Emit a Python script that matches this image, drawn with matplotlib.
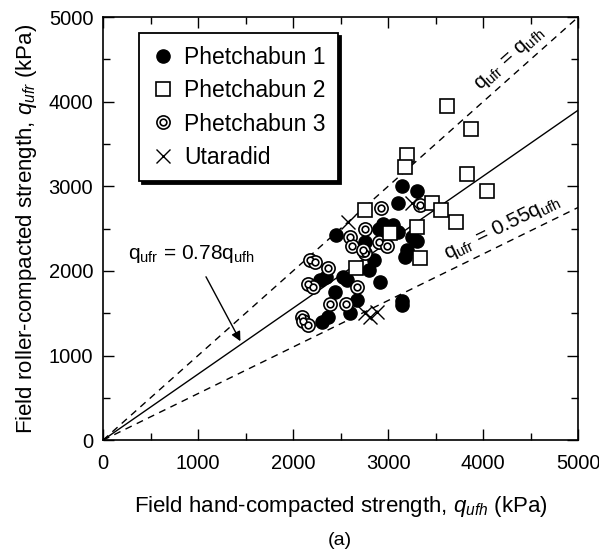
import matplotlib
matplotlib.use("Agg")
import matplotlib.pyplot as plt
from matplotlib.lines import Line2D
from matplotlib.legend_handler import HandlerTuple
from matplotlib.ticker import MultipleLocator
import numpy as np

plt.rcParams['font.family'] = ['Liberation Sans', 'DejaVu Sans']
plt.rcParams['mathtext.fontset'] = 'custom'
plt.rcParams['mathtext.it'] = 'Liberation Sans:italic'
plt.rcParams['mathtext.rm'] = 'Liberation Sans'

# Phetchabun 1 (filled circles)
p1_x = [3150, 3300, 3100, 2450, 2950, 3050, 3100, 2900, 2760, 3200, 3300, 3250, 3180, 2850,
        2800, 2280, 2350, 2530, 2440, 2570, 2920, 2670, 2600, 2300, 2370, 3150, 3150, 3000]
p1_y = [3000, 2950, 2800, 2420, 2560, 2540, 2460, 2500, 2340, 2250, 2350, 2400, 2170, 2130,
        2010, 1890, 1930, 1930, 1750, 1890, 1870, 1660, 1500, 1400, 1450, 1600, 1650, 2450]
# Phetchabun 2 (open squares)
p2_x = [3620, 3870, 3200, 3180, 3830, 4040, 3460, 3560, 3720, 3300, 3340, 3020, 2760, 2660]
p2_y = [3950, 3680, 3370, 3230, 3150, 2950, 2800, 2720, 2580, 2520, 2150, 2450, 2720, 2040]
# Phetchabun 3 (bullseye)
p3_x = [2930, 2600, 2760, 2620, 2760, 2900, 2990, 2180, 2230, 2370, 2160, 2210, 2670, 2390,
        2560, 2090, 2110, 2160, 2740, 3340]
p3_y = [2740, 2400, 2500, 2300, 2210, 2340, 2290, 2130, 2110, 2040, 1850, 1810, 1810, 1610,
        1610, 1450, 1410, 1360, 2250, 2780]
# Utaradid (crosses)
ut_x = [3250, 2580, 2810, 2880, 2760]
ut_y = [2800, 2580, 1460, 1520, 1500]

ratios = [1.0, 0.78, 0.55]
series_labels = ['Phetchabun 1', 'Phetchabun 2', 'Phetchabun 3', 'Utaradid']

fig = plt.figure(figsize=(5.99, 5.55), dpi=100)
ax = fig.add_axes([0.172, 0.207, 0.793, 0.762])

xs = np.array([0, 5000])
ax.plot(xs, ratios[0] * xs, color='black', lw=1.0, ls=(0, (5, 4)), zorder=1)
ax.plot(xs, ratios[1] * xs, color='black', lw=1.0, ls='-', zorder=1)
ax.plot(xs, ratios[2] * xs, color='black', lw=1.0, ls=(0, (5, 4)), zorder=1)

ms = 9.5
ax.plot(p1_x, p1_y, 'o', ms=ms, mfc='black', mec='black', zorder=3)
ax.plot(p3_x, p3_y, 'o', ms=ms, mfc='white', mec='black', mew=1.2, zorder=4)
ax.plot(p3_x, p3_y, 'o', ms=4.8, mfc='white', mec='black', mew=1.2, zorder=4)
ax.plot(p2_x, p2_y, 's', ms=9.5, mfc='white', mec='black', mew=1.2, zorder=5)
ax.plot(ut_x, ut_y, 'x', ms=10, mec='black', mew=1.0, zorder=6)

ax.set_xlim(0, 5000)
ax.set_ylim(0, 5000)
ax.xaxis.set_major_locator(MultipleLocator(1000))
ax.yaxis.set_major_locator(MultipleLocator(1000))
ax.xaxis.set_minor_locator(MultipleLocator(500))
ax.yaxis.set_minor_locator(MultipleLocator(500))
ax.tick_params(which='both', direction='in', top=True, right=True, labelsize=14.5)
ax.tick_params(which='major', length=8, width=1.0, pad=7)
ax.tick_params(axis='x', which='major', pad=10)
ax.tick_params(which='minor', length=5, width=1.0)
for s in ax.spines.values():
    s.set_linewidth(1.2)

ax.set_xlabel(r'Field hand-compacted strength, $q_{ufh}$ (kPa)', fontsize=16, labelpad=15)
ax.set_ylabel(r'Field roller-compacted strength, $q_{ufr}$ (kPa)', fontsize=16, labelpad=7)
fig.text(0.568, 0.027, '(a)', ha='center', va='center', fontsize=14)

def screen_angle(r):
    p0 = ax.transData.transform((0, 0))
    p1 = ax.transData.transform((1000, 1000 * r))
    return np.degrees(np.arctan2(p1[1] - p0[1], p1[0] - p0[0]))

ax.text(4280, 4500, r'q$_{\rm ufr}$ = q$_{\rm ufh}$', rotation=screen_angle(1.0),
        ha='center', va='center', fontsize=15, rotation_mode='anchor')
ax.text(4200, 2520, r'q$_{\rm ufr}$ = 0.55q$_{\rm ufh}$', rotation=screen_angle(0.55),
        ha='center', va='center', fontsize=15, rotation_mode='anchor')
ax.text(1600, 2200, r'q$_{\rm ufr}$ = 0.78q$_{\rm ufh}$', ha='right', va='center', fontsize=15)
ax.annotate('', xy=(1460, 1140), xytext=(1070, 1960),
            arrowprops=dict(arrowstyle='-|>', color='black', lw=1.0, mutation_scale=14))

h1 = Line2D([], [], ls='none', marker='o', ms=ms, mfc='black', mec='black')
h2 = Line2D([], [], ls='none', marker='s', ms=9.5, mfc='white', mec='black', mew=1.2)
h3a = Line2D([], [], ls='none', marker='o', ms=ms, mfc='white', mec='black', mew=1.2)
h3b = Line2D([], [], ls='none', marker='o', ms=4.8, mfc='white', mec='black', mew=1.2)
h4 = Line2D([], [], ls='none', marker='x', ms=10, mec='black', mew=1.0)
leg = ax.legend([h1, h2, (h3a, h3b), h4], series_labels,
                handler_map={tuple: HandlerTuple(ndivide=1, pad=0)},
                loc='upper left', bbox_to_anchor=(0.076, 0.962), fontsize=16.5,
                frameon=True, fancybox=False, shadow={'color': 'black', 'alpha': 1},
                edgecolor='black', borderpad=0.55, labelspacing=0.45, handletextpad=0.4,
                handlelength=1.0, borderaxespad=0)
leg.get_frame().set_linewidth(1.3)
leg.set_zorder(10)

fig.savefig('out.png', dpi=100)
